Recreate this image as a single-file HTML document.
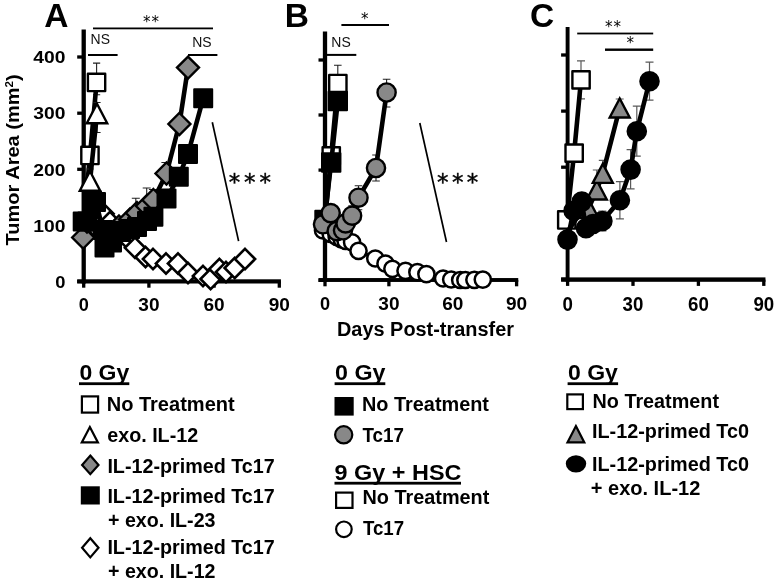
<!DOCTYPE html>
<html lang="en"><head><meta charset="utf-8"><title>Figure</title>
<style>html,body{margin:0;padding:0;background:#fff}svg{display:block}</style>
</head><body>
<svg width="776" height="584" viewBox="0 0 776 584" font-family='"Liberation Sans", sans-serif' fill="#000">
<rect width="776" height="584" fill="#fff"/>
<g id="panelA">
<rect x="81.55" y="29.5" width="4.3" height="254.00" fill="#000"/>
<rect x="77.2" y="279.30" width="203.75" height="4.2" fill="#000"/>
<rect x="82.05" y="281.4" width="3.3" height="6.3" fill="#000"/>
<rect x="147.25" y="281.4" width="3.3" height="6.3" fill="#000"/>
<rect x="212.45" y="281.4" width="3.3" height="6.3" fill="#000"/>
<rect x="277.65" y="281.4" width="3.3" height="6.3" fill="#000"/>
<rect x="77.2" y="279.85" width="6.5" height="3.3" fill="#000"/>
<rect x="77.2" y="223.75" width="6.5" height="3.3" fill="#000"/>
<rect x="77.2" y="167.65" width="6.5" height="3.3" fill="#000"/>
<rect x="77.2" y="111.55" width="6.5" height="3.3" fill="#000"/>
<rect x="77.2" y="55.35" width="6.5" height="3.3" fill="#000"/>
<path d="M96.6,63.1 L96.6,94.8 M93.0,63.1 L100.2,63.1 M93.0,94.8 L100.2,94.8" stroke="#222" stroke-width="1.1" fill="none"/>
<path d="M83.7,222.0 L90.0,155.5 L96.6,82.4" fill="none" stroke="#000" stroke-width="4.6" stroke-linejoin="round"/>
<rect x="81.3" y="146.8" width="17.3" height="17.3" fill="#fff" stroke="#000" stroke-width="2.4" stroke-linejoin="round"/>
<rect x="87.9" y="73.8" width="17.3" height="17.3" fill="#fff" stroke="#000" stroke-width="2.4" stroke-linejoin="round"/>
<path d="M97.0,102.5 L97.0,132.5 M93.4,102.5 L100.6,102.5 M93.4,132.5 L100.6,132.5" stroke="#222" stroke-width="1.1" fill="none"/>
<path d="M90.0,169.0 L90.0,181.0 M86.4,169.0 L93.6,169.0" stroke="#222" stroke-width="1.1" fill="none"/>
<path d="M83.7,222.0 L90.0,181.0 L97.0,113.5" fill="none" stroke="#000" stroke-width="4.6" stroke-linejoin="round"/>
<path d="M90.0,171.2 L100.2,190.8 L79.8,190.8Z" fill="#fff" stroke="#000" stroke-width="2.4" stroke-linejoin="miter"/>
<path d="M97.0,103.8 L107.2,123.2 L86.8,123.2Z" fill="#fff" stroke="#000" stroke-width="2.4" stroke-linejoin="miter"/>
<path d="M83.0,222.0 L87.0,222.0 L92.0,218.0 L96.0,216.0 L100.0,218.0 L103.5,213.8 L110.0,222.0 L118.0,232.0 L127.0,238.0 L135.0,247.8 L145.5,257.0 L153.0,259.0 L166.0,263.5 L178.0,263.5 L188.0,273.0 L203.0,276.0 L210.6,279.0 L219.4,269.0 L226.0,272.0 L234.7,268.0 L245.0,259.0" fill="none" stroke="#000" stroke-width="3.5" stroke-linejoin="round"/>
<path d="M92.0,207.9 L102.1,218.0 L92.0,228.1 L81.9,218.0Z" fill="#fff" stroke="#000" stroke-width="2.6"/>
<path d="M96.0,205.9 L106.1,216.0 L96.0,226.1 L85.9,216.0Z" fill="#fff" stroke="#000" stroke-width="2.6"/>
<path d="M100.0,207.9 L110.1,218.0 L100.0,228.1 L89.9,218.0Z" fill="#fff" stroke="#000" stroke-width="2.6"/>
<path d="M103.5,203.7 L113.6,213.8 L103.5,223.9 L93.4,213.8Z" fill="#fff" stroke="#000" stroke-width="2.6"/>
<path d="M110.0,211.9 L120.1,222.0 L110.0,232.1 L99.9,222.0Z" fill="#fff" stroke="#000" stroke-width="2.6"/>
<path d="M118.0,221.9 L128.1,232.0 L118.0,242.1 L107.9,232.0Z" fill="#fff" stroke="#000" stroke-width="2.6"/>
<path d="M127.0,227.9 L137.1,238.0 L127.0,248.1 L116.9,238.0Z" fill="#fff" stroke="#000" stroke-width="2.6"/>
<path d="M135.0,237.7 L145.1,247.8 L135.0,257.9 L124.9,247.8Z" fill="#fff" stroke="#000" stroke-width="2.6"/>
<path d="M145.5,246.9 L155.6,257.0 L145.5,267.1 L135.4,257.0Z" fill="#fff" stroke="#000" stroke-width="2.6"/>
<path d="M153.0,248.9 L163.1,259.0 L153.0,269.1 L142.9,259.0Z" fill="#fff" stroke="#000" stroke-width="2.6"/>
<path d="M166.0,253.4 L176.1,263.5 L166.0,273.6 L155.9,263.5Z" fill="#fff" stroke="#000" stroke-width="2.6"/>
<path d="M178.0,253.4 L188.1,263.5 L178.0,273.6 L167.9,263.5Z" fill="#fff" stroke="#000" stroke-width="2.6"/>
<path d="M188.0,262.9 L198.1,273.0 L188.0,283.1 L177.9,273.0Z" fill="#fff" stroke="#000" stroke-width="2.6"/>
<path d="M203.0,265.9 L213.1,276.0 L203.0,286.1 L192.9,276.0Z" fill="#fff" stroke="#000" stroke-width="2.6"/>
<path d="M210.6,268.9 L220.7,279.0 L210.6,289.1 L200.5,279.0Z" fill="#fff" stroke="#000" stroke-width="2.6"/>
<path d="M219.4,258.9 L229.5,269.0 L219.4,279.1 L209.3,269.0Z" fill="#fff" stroke="#000" stroke-width="2.6"/>
<path d="M226.0,261.9 L236.1,272.0 L226.0,282.1 L215.9,272.0Z" fill="#fff" stroke="#000" stroke-width="2.6"/>
<path d="M234.7,257.9 L244.8,268.0 L234.7,278.1 L224.6,268.0Z" fill="#fff" stroke="#000" stroke-width="2.6"/>
<path d="M245.0,248.9 L255.1,259.0 L245.0,269.1 L234.9,259.0Z" fill="#fff" stroke="#000" stroke-width="2.6"/>
<path d="M135.8,198.2 L135.8,213.0 M131.8,198.2 L139.8,198.2" stroke="#222" stroke-width="1.1" fill="none"/>
<path d="M146.7,188.0 L146.7,206.0 M142.7,188.0 L150.7,188.0" stroke="#222" stroke-width="1.1" fill="none"/>
<path d="M152.9,189.5 L152.9,200.0 M148.9,189.5 L156.9,189.5" stroke="#222" stroke-width="1.1" fill="none"/>
<path d="M165.4,162.5 L165.4,173.5 M161.4,162.5 L169.4,162.5" stroke="#222" stroke-width="1.1" fill="none"/>
<path d="M179.4,117.0 L179.4,124.0 M175.4,117.0 L183.4,117.0" stroke="#222" stroke-width="1.1" fill="none"/>
<path d="M188.0,62.6 L188.0,67.6 M184.0,62.6 L192.0,62.6" stroke="#222" stroke-width="1.1" fill="none"/>
<path d="M83.2,237.5 L87.0,221.5 L92.0,222.0 L96.0,227.0 L104.5,236.0 L111.5,234.0 L115.0,231.0 L119.0,226.5 L130.0,219.5 L137.0,213.0 L147.0,206.0 L153.4,200.0 L166.5,173.5 L179.4,124.0 L188.0,67.6" fill="none" stroke="#000" stroke-width="4.6" stroke-linejoin="round"/>
<path d="M83.2,226.5 L94.2,237.5 L83.2,248.5 L72.2,237.5Z" fill="#888" stroke="#000" stroke-width="2.4"/>
<path d="M87.0,210.5 L98.0,221.5 L87.0,232.5 L76.0,221.5Z" fill="#888" stroke="#000" stroke-width="2.4"/>
<path d="M92.0,211.0 L103.0,222.0 L92.0,233.0 L81.0,222.0Z" fill="#888" stroke="#000" stroke-width="2.4"/>
<path d="M96.0,216.0 L107.0,227.0 L96.0,238.0 L85.0,227.0Z" fill="#888" stroke="#000" stroke-width="2.4"/>
<path d="M104.5,225.0 L115.5,236.0 L104.5,247.0 L93.5,236.0Z" fill="#888" stroke="#000" stroke-width="2.4"/>
<path d="M111.5,223.0 L122.5,234.0 L111.5,245.0 L100.5,234.0Z" fill="#888" stroke="#000" stroke-width="2.4"/>
<path d="M115.0,220.0 L126.0,231.0 L115.0,242.0 L104.0,231.0Z" fill="#888" stroke="#000" stroke-width="2.4"/>
<path d="M119.0,215.5 L130.0,226.5 L119.0,237.5 L108.0,226.5Z" fill="#888" stroke="#000" stroke-width="2.4"/>
<path d="M130.0,208.5 L141.0,219.5 L130.0,230.5 L119.0,219.5Z" fill="#888" stroke="#000" stroke-width="2.4"/>
<path d="M137.0,202.0 L148.0,213.0 L137.0,224.0 L126.0,213.0Z" fill="#888" stroke="#000" stroke-width="2.4"/>
<path d="M147.0,195.0 L158.0,206.0 L147.0,217.0 L136.0,206.0Z" fill="#888" stroke="#000" stroke-width="2.4"/>
<path d="M153.4,189.0 L164.4,200.0 L153.4,211.0 L142.4,200.0Z" fill="#888" stroke="#000" stroke-width="2.4"/>
<path d="M166.5,162.5 L177.5,173.5 L166.5,184.5 L155.5,173.5Z" fill="#888" stroke="#000" stroke-width="2.4"/>
<path d="M179.4,113.0 L190.4,124.0 L179.4,135.0 L168.4,124.0Z" fill="#888" stroke="#000" stroke-width="2.4"/>
<path d="M188.0,56.6 L199.0,67.6 L188.0,78.6 L177.0,67.6Z" fill="#888" stroke="#000" stroke-width="2.4"/>
<path d="M82.7,221.5 L87.4,221.5 L92.0,200.5 L96.0,202.0 L103.0,230.0 L104.5,247.5 L112.0,242.5 L114.0,231.0 L121.0,232.0 L130.0,229.0 L137.0,227.0 L147.0,221.0 L153.4,216.8 L166.5,198.5 L178.8,176.7 L188.0,154.0 L203.2,98.3" fill="none" stroke="#000" stroke-width="4.6" stroke-linejoin="round"/>
<rect x="73.7" y="212.5" width="18" height="18" fill="#000" stroke="#000" stroke-width="2" stroke-linejoin="round"/>
<rect x="78.4" y="212.5" width="18" height="18" fill="#000" stroke="#000" stroke-width="2" stroke-linejoin="round"/>
<rect x="83.0" y="191.5" width="18" height="18" fill="#000" stroke="#000" stroke-width="2" stroke-linejoin="round"/>
<rect x="87.0" y="193.0" width="18" height="18" fill="#000" stroke="#000" stroke-width="2" stroke-linejoin="round"/>
<rect x="94.0" y="221.0" width="18" height="18" fill="#000" stroke="#000" stroke-width="2" stroke-linejoin="round"/>
<rect x="95.5" y="238.5" width="18" height="18" fill="#000" stroke="#000" stroke-width="2" stroke-linejoin="round"/>
<rect x="103.0" y="233.5" width="18" height="18" fill="#000" stroke="#000" stroke-width="2" stroke-linejoin="round"/>
<rect x="105.0" y="222.0" width="18" height="18" fill="#000" stroke="#000" stroke-width="2" stroke-linejoin="round"/>
<rect x="112.0" y="223.0" width="18" height="18" fill="#000" stroke="#000" stroke-width="2" stroke-linejoin="round"/>
<rect x="121.0" y="220.0" width="18" height="18" fill="#000" stroke="#000" stroke-width="2" stroke-linejoin="round"/>
<rect x="128.0" y="218.0" width="18" height="18" fill="#000" stroke="#000" stroke-width="2" stroke-linejoin="round"/>
<rect x="138.0" y="212.0" width="18" height="18" fill="#000" stroke="#000" stroke-width="2" stroke-linejoin="round"/>
<rect x="144.4" y="207.8" width="18" height="18" fill="#000" stroke="#000" stroke-width="2" stroke-linejoin="round"/>
<rect x="157.5" y="189.5" width="18" height="18" fill="#000" stroke="#000" stroke-width="2" stroke-linejoin="round"/>
<rect x="169.8" y="167.7" width="18" height="18" fill="#000" stroke="#000" stroke-width="2" stroke-linejoin="round"/>
<rect x="179.0" y="145.0" width="18" height="18" fill="#000" stroke="#000" stroke-width="2" stroke-linejoin="round"/>
<rect x="194.2" y="89.3" width="18" height="18" fill="#000" stroke="#000" stroke-width="2" stroke-linejoin="round"/>
</g>
<g id="panelB">
<rect x="322.85" y="31.5" width="4.3" height="250.45" fill="#000"/>
<rect x="318.5" y="278.05" width="199.75" height="3.9" fill="#000"/>
<rect x="323.35" y="280.0" width="3.3" height="6.3" fill="#000"/>
<rect x="387.25" y="280.0" width="3.3" height="6.3" fill="#000"/>
<rect x="451.15" y="280.0" width="3.3" height="6.3" fill="#000"/>
<rect x="514.95" y="280.0" width="3.3" height="6.3" fill="#000"/>
<rect x="318.5" y="278.65" width="6.5" height="3.3" fill="#000"/>
<rect x="318.5" y="223.55" width="6.5" height="3.3" fill="#000"/>
<rect x="318.5" y="168.45" width="6.5" height="3.3" fill="#000"/>
<rect x="318.5" y="113.35" width="6.5" height="3.3" fill="#000"/>
<rect x="318.5" y="58.35" width="6.5" height="3.3" fill="#000"/>
<path d="M323.0,230.3 L330.7,234.0 L336.7,237.0 L341.8,239.7 L345.6,241.0 L352.1,242.3 L358.5,250.8 L375.3,258.5 L385.5,263.7 L392.4,268.8 L405.5,270.8 L417.4,272.2 L426.4,274.1 L443.1,278.5 L451.2,279.5 L460.2,280.0 L465.4,280.0 L474.4,279.8 L482.8,279.6" fill="none" stroke="#000" stroke-width="3.5" stroke-linejoin="round"/>
<circle cx="323.0" cy="230.3" r="8.1" fill="#fff" stroke="#000" stroke-width="2.5"/>
<circle cx="330.7" cy="234.0" r="8.1" fill="#fff" stroke="#000" stroke-width="2.5"/>
<circle cx="336.7" cy="237.0" r="8.1" fill="#fff" stroke="#000" stroke-width="2.5"/>
<circle cx="341.8" cy="239.7" r="8.1" fill="#fff" stroke="#000" stroke-width="2.5"/>
<circle cx="345.6" cy="241.0" r="8.1" fill="#fff" stroke="#000" stroke-width="2.5"/>
<circle cx="352.1" cy="242.3" r="8.1" fill="#fff" stroke="#000" stroke-width="2.5"/>
<circle cx="358.5" cy="250.8" r="8.1" fill="#fff" stroke="#000" stroke-width="2.5"/>
<circle cx="375.3" cy="258.5" r="8.1" fill="#fff" stroke="#000" stroke-width="2.5"/>
<circle cx="385.5" cy="263.7" r="8.1" fill="#fff" stroke="#000" stroke-width="2.5"/>
<circle cx="392.4" cy="268.8" r="8.1" fill="#fff" stroke="#000" stroke-width="2.5"/>
<circle cx="405.5" cy="270.8" r="8.1" fill="#fff" stroke="#000" stroke-width="2.5"/>
<circle cx="417.4" cy="272.2" r="8.1" fill="#fff" stroke="#000" stroke-width="2.5"/>
<circle cx="426.4" cy="274.1" r="8.1" fill="#fff" stroke="#000" stroke-width="2.5"/>
<circle cx="443.1" cy="278.5" r="8.1" fill="#fff" stroke="#000" stroke-width="2.5"/>
<circle cx="451.2" cy="279.5" r="8.1" fill="#fff" stroke="#000" stroke-width="2.5"/>
<circle cx="460.2" cy="280.0" r="8.1" fill="#fff" stroke="#000" stroke-width="2.5"/>
<circle cx="465.4" cy="280.0" r="8.1" fill="#fff" stroke="#000" stroke-width="2.5"/>
<circle cx="474.4" cy="279.8" r="8.1" fill="#fff" stroke="#000" stroke-width="2.5"/>
<circle cx="482.8" cy="279.6" r="8.1" fill="#fff" stroke="#000" stroke-width="2.5"/>
<path d="M337.8,65.3 L337.8,83.6 M334.0,65.3 L341.6,65.3" stroke="#222" stroke-width="1.1" fill="none"/>
<path d="M324.8,222.0 L331.2,155.8 L337.8,83.6" fill="none" stroke="#000" stroke-width="4.6" stroke-linejoin="round"/>
<rect x="322.6" y="147.2" width="17.3" height="17.3" fill="#fff" stroke="#000" stroke-width="2.4" stroke-linejoin="round"/>
<rect x="329.2" y="74.9" width="17.3" height="17.3" fill="#fff" stroke="#000" stroke-width="2.4" stroke-linejoin="round"/>
<path d="M324.5,220.0 L331.2,162.5 L337.8,101.0" fill="none" stroke="#000" stroke-width="4.6" stroke-linejoin="round"/>
<rect x="315.3" y="210.8" width="18.4" height="18.4" fill="#000" stroke="#000" stroke-width="2" stroke-linejoin="round"/>
<rect x="322.0" y="153.3" width="18.4" height="18.4" fill="#000" stroke="#000" stroke-width="2" stroke-linejoin="round"/>
<rect x="328.6" y="91.8" width="18.4" height="18.4" fill="#000" stroke="#000" stroke-width="2" stroke-linejoin="round"/>
<path d="M386.6,79.3 L386.6,107.0 M382.8,79.3 L390.4,79.3 M382.8,107.0 L390.4,107.0" stroke="#222" stroke-width="1.1" fill="none"/>
<path d="M376.0,155.0 L376.0,181.0 M372.2,155.0 L379.8,155.0 M372.2,181.0 L379.8,181.0" stroke="#222" stroke-width="1.1" fill="none"/>
<path d="M358.5,185.7 L358.5,209.7 M354.7,185.7 L362.3,185.7 M354.7,209.7 L362.3,209.7" stroke="#222" stroke-width="1.1" fill="none"/>
<path d="M352.1,205.7 L352.1,225.7 M348.3,205.7 L355.9,205.7 M348.3,225.7 L355.9,225.7" stroke="#222" stroke-width="1.1" fill="none"/>
<path d="M323.0,224.3 L330.7,213.1 L336.7,231.1 L343.0,230.3 L345.6,223.4 L352.1,215.7 L358.5,197.7 L376.0,168.0 L386.6,92.5" fill="none" stroke="#000" stroke-width="4.6" stroke-linejoin="round"/>
<circle cx="323.0" cy="224.3" r="9.1" fill="#888" stroke="#000" stroke-width="2.4"/>
<circle cx="330.7" cy="213.1" r="9.1" fill="#888" stroke="#000" stroke-width="2.4"/>
<circle cx="336.7" cy="231.1" r="9.1" fill="#888" stroke="#000" stroke-width="2.4"/>
<circle cx="343.0" cy="230.3" r="9.1" fill="#888" stroke="#000" stroke-width="2.4"/>
<circle cx="345.6" cy="223.4" r="9.1" fill="#888" stroke="#000" stroke-width="2.4"/>
<circle cx="352.1" cy="215.7" r="9.1" fill="#888" stroke="#000" stroke-width="2.4"/>
<circle cx="358.5" cy="197.7" r="9.1" fill="#888" stroke="#000" stroke-width="2.4"/>
<circle cx="376.0" cy="168.0" r="9.1" fill="#888" stroke="#000" stroke-width="2.4"/>
<circle cx="386.6" cy="92.5" r="9.1" fill="#888" stroke="#000" stroke-width="2.4"/>
</g>
<g id="panelC">
<rect x="565.65" y="27" width="3.9" height="254.80" fill="#000"/>
<rect x="561.1" y="277.40" width="204.35" height="4.4" fill="#000"/>
<rect x="565.95" y="279.6" width="3.3" height="6.3" fill="#000"/>
<rect x="631.35" y="279.6" width="3.3" height="6.3" fill="#000"/>
<rect x="696.75" y="279.6" width="3.3" height="6.3" fill="#000"/>
<rect x="762.15" y="279.6" width="3.3" height="6.3" fill="#000"/>
<rect x="561.1" y="277.65" width="6.5" height="3.3" fill="#000"/>
<rect x="561.1" y="221.55" width="6.5" height="3.3" fill="#000"/>
<rect x="561.1" y="165.55" width="6.5" height="3.3" fill="#000"/>
<rect x="561.1" y="109.45" width="6.5" height="3.3" fill="#000"/>
<rect x="561.1" y="53.35" width="6.5" height="3.3" fill="#000"/>
<path d="M581.0,60.9 L581.0,98.9 M577.0,60.9 L585.0,60.9 M577.0,98.9 L585.0,98.9" stroke="#5a5a5a" stroke-width="1.2" fill="none"/>
<path d="M566.8,220.0 L574.1,153.2 L581.0,79.9" fill="none" stroke="#000" stroke-width="4.6" stroke-linejoin="round"/>
<rect x="558.1" y="211.3" width="17.3" height="17.3" fill="#fff" stroke="#000" stroke-width="2.4" stroke-linejoin="round"/>
<rect x="565.5" y="144.5" width="17.3" height="17.3" fill="#fff" stroke="#000" stroke-width="2.4" stroke-linejoin="round"/>
<rect x="572.4" y="71.2" width="17.3" height="17.3" fill="#fff" stroke="#000" stroke-width="2.4" stroke-linejoin="round"/>
<path d="M602.8,160.4 L602.8,173.4 M598.8,160.4 L606.8,160.4" stroke="#5a5a5a" stroke-width="1.2" fill="none"/>
<path d="M596.8,170.0 L596.8,190.0 M592.8,170.0 L600.8,170.0" stroke="#5a5a5a" stroke-width="1.2" fill="none"/>
<path d="M619.7,99.0 L619.7,108.0 M615.7,99.0 L623.7,99.0" stroke="#5a5a5a" stroke-width="1.2" fill="none"/>
<path d="M567.3,232.0 L579.0,215.0 L588.5,208.5 L596.8,190.0 L602.8,173.4 L619.7,108.0" fill="none" stroke="#000" stroke-width="4.6" stroke-linejoin="round"/>
<path d="M588.5,199.0 L598.5,218.0 L578.5,218.0Z" fill="#888" stroke="#000" stroke-width="2.4" stroke-linejoin="miter"/>
<path d="M596.8,180.5 L606.8,199.5 L586.8,199.5Z" fill="#888" stroke="#000" stroke-width="2.4" stroke-linejoin="miter"/>
<path d="M602.8,163.9 L612.8,182.9 L592.8,182.9Z" fill="#888" stroke="#000" stroke-width="2.4" stroke-linejoin="miter"/>
<path d="M619.7,98.5 L629.7,117.5 L609.7,117.5Z" fill="#888" stroke="#000" stroke-width="2.4" stroke-linejoin="miter"/>
<path d="M649.5,62.2 L649.5,100.2 M645.5,62.2 L653.5,62.2 M645.5,100.2 L653.5,100.2" stroke="#5a5a5a" stroke-width="1.2" fill="none"/>
<path d="M636.8,106.2 L636.8,156.2 M632.8,106.2 L640.8,106.2 M632.8,156.2 L640.8,156.2" stroke="#5a5a5a" stroke-width="1.2" fill="none"/>
<path d="M630.6,149.6 L630.6,188.9 M626.6,149.6 L634.6,149.6 M626.6,188.9 L634.6,188.9" stroke="#5a5a5a" stroke-width="1.2" fill="none"/>
<path d="M619.9,181.7 L619.9,218.9 M615.9,181.7 L623.9,181.7 M615.9,218.9 L623.9,218.9" stroke="#5a5a5a" stroke-width="1.2" fill="none"/>
<path d="M602.4,211.0 L602.4,231.0 M598.4,211.0 L606.4,211.0 M598.4,231.0 L606.4,231.0" stroke="#5a5a5a" stroke-width="1.2" fill="none"/>
<path d="M567.5,239.6 L573.6,210.8 L581.8,201.6 L586.0,228.3 L593.0,224.0 L602.4,221.0 L619.9,200.3 L630.6,169.6 L636.8,131.2 L649.5,81.2" fill="none" stroke="#000" stroke-width="4.6" stroke-linejoin="round"/>
<circle cx="567.5" cy="239.6" r="9.3" fill="#000" stroke="#000" stroke-width="2"/>
<circle cx="573.6" cy="210.8" r="9.3" fill="#000" stroke="#000" stroke-width="2"/>
<circle cx="581.8" cy="201.6" r="9.3" fill="#000" stroke="#000" stroke-width="2"/>
<circle cx="586.0" cy="228.3" r="9.3" fill="#000" stroke="#000" stroke-width="2"/>
<circle cx="593.0" cy="224.0" r="9.3" fill="#000" stroke="#000" stroke-width="2"/>
<circle cx="602.4" cy="221.0" r="9.3" fill="#000" stroke="#000" stroke-width="2"/>
<circle cx="619.9" cy="200.3" r="9.3" fill="#000" stroke="#000" stroke-width="2"/>
<circle cx="630.6" cy="169.6" r="9.3" fill="#000" stroke="#000" stroke-width="2"/>
<circle cx="636.8" cy="131.2" r="9.3" fill="#000" stroke="#000" stroke-width="2"/>
<circle cx="649.5" cy="81.2" r="9.3" fill="#000" stroke="#000" stroke-width="2"/>
</g>
<text x="44.2" y="26.8" font-size="33.5" font-weight="bold" text-anchor="start">A</text>
<text x="284.8" y="26.9" font-size="33.5" font-weight="bold" text-anchor="start">B</text>
<text x="529.9" y="26.9" font-size="33.5" font-weight="bold" text-anchor="start">C</text>
<text x="65.4" y="287.7" font-size="17.4" font-weight="bold" text-anchor="end" textLength="10.2" lengthAdjust="spacingAndGlyphs">0</text>
<text x="65.4" y="231.6" font-size="17.4" font-weight="bold" text-anchor="end" textLength="32.2" lengthAdjust="spacingAndGlyphs">100</text>
<text x="65.4" y="175.5" font-size="17.4" font-weight="bold" text-anchor="end" textLength="32.2" lengthAdjust="spacingAndGlyphs">200</text>
<text x="65.4" y="119.4" font-size="17.4" font-weight="bold" text-anchor="end" textLength="32.2" lengthAdjust="spacingAndGlyphs">300</text>
<text x="65.4" y="63.2" font-size="17.4" font-weight="bold" text-anchor="end" textLength="32.2" lengthAdjust="spacingAndGlyphs">400</text>
<text x="83.7" y="311.4" font-size="18" font-weight="bold" text-anchor="middle" textLength="10.1" lengthAdjust="spacingAndGlyphs">0</text>
<text x="148.9" y="311.4" font-size="18" font-weight="bold" text-anchor="middle" textLength="21.2" lengthAdjust="spacingAndGlyphs">30</text>
<text x="214.1" y="311.4" font-size="18" font-weight="bold" text-anchor="middle" textLength="21.2" lengthAdjust="spacingAndGlyphs">60</text>
<text x="279.3" y="311.4" font-size="18" font-weight="bold" text-anchor="middle" textLength="21.2" lengthAdjust="spacingAndGlyphs">90</text>
<text x="325.0" y="310.4" font-size="18" font-weight="bold" text-anchor="middle" textLength="10.1" lengthAdjust="spacingAndGlyphs">0</text>
<text x="388.9" y="310.4" font-size="18" font-weight="bold" text-anchor="middle" textLength="21.2" lengthAdjust="spacingAndGlyphs">30</text>
<text x="452.8" y="310.4" font-size="18" font-weight="bold" text-anchor="middle" textLength="21.2" lengthAdjust="spacingAndGlyphs">60</text>
<text x="516.6" y="310.4" font-size="18" font-weight="bold" text-anchor="middle" textLength="21.2" lengthAdjust="spacingAndGlyphs">90</text>
<text x="567.6" y="310.5" font-size="19.5" font-weight="bold" text-anchor="middle" textLength="10.4" lengthAdjust="spacingAndGlyphs">0</text>
<text x="633.0" y="310.5" font-size="19.5" font-weight="bold" text-anchor="middle" textLength="20.8" lengthAdjust="spacingAndGlyphs">30</text>
<text x="698.4" y="310.5" font-size="19.5" font-weight="bold" text-anchor="middle" textLength="20.8" lengthAdjust="spacingAndGlyphs">60</text>
<text x="763.8" y="310.5" font-size="19.5" font-weight="bold" text-anchor="middle" textLength="20.8" lengthAdjust="spacingAndGlyphs">90</text>
<text transform="translate(19.1,245.4) rotate(-90)" font-size="19" font-weight="bold" textLength="171" lengthAdjust="spacingAndGlyphs">Tumor Area (mm<tspan font-size="11" dy="-6">2</tspan><tspan dy="6">)</tspan></text>
<text x="337" y="336.2" font-size="19.5" font-weight="bold" text-anchor="start" textLength="177" lengthAdjust="spacingAndGlyphs">Days Post-transfer</text>
<rect x="93" y="27.5" width="120" height="1.8" fill="#000"/>
<text x="142.9 151.6" y="26.8" font-family="DejaVu Sans, sans-serif" font-size="15" font-weight="normal" fill="#000" stroke="#000" stroke-width="0">**</text>
<rect x="88" y="54.0" width="29.599999999999994" height="2" fill="#000"/>
<text x="90.6" y="43.8" font-size="15.4" font-weight="normal" text-anchor="start" textLength="19.4" lengthAdjust="spacingAndGlyphs" fill="#111">NS</text>
<rect x="188" y="54.0" width="29.400000000000006" height="2" fill="#000"/>
<text x="192.2" y="47" font-size="15.4" font-weight="normal" text-anchor="start" textLength="19.4" lengthAdjust="spacingAndGlyphs" fill="#111">NS</text>
<rect x="341.4" y="24.0" width="47.60000000000002" height="2" fill="#000"/>
<text x="360.9" y="23.8" font-family="DejaVu Sans, sans-serif" font-size="15" font-weight="normal" fill="#000" stroke="#000" stroke-width="0">*</text>
<rect x="327" y="53.9" width="29.30000000000001" height="2" fill="#000"/>
<text x="331.3" y="47.2" font-size="15.4" font-weight="normal" text-anchor="start" textLength="19.4" lengthAdjust="spacingAndGlyphs" fill="#111">NS</text>
<rect x="577.2" y="32.6" width="76.0" height="1.8" fill="#000"/>
<text x="605.0 613.5" y="31.9" font-family="DejaVu Sans, sans-serif" font-size="15" font-weight="normal" fill="#000" stroke="#000" stroke-width="0">**</text>
<rect x="605" y="48.5" width="48.200000000000045" height="2.4" fill="#000"/>
<text x="626.5" y="48.2" font-family="DejaVu Sans, sans-serif" font-size="15" font-weight="normal" fill="#000" stroke="#000" stroke-width="0">*</text>
<path d="M212.3,122.3 L238.6,241.1" stroke="#000" stroke-width="1.7" fill="none"/>
<path d="M419.8,123 L446.5,242" stroke="#000" stroke-width="1.7" fill="none"/>
<text x="228.8 244.1 259.4" y="190.1" font-family="DejaVu Sans, sans-serif" font-size="23" font-weight="normal" fill="#000" stroke="#000" stroke-width="0.4">***</text>
<text x="437.1 451.9 466.7" y="189.7" font-family="DejaVu Sans, sans-serif" font-size="23" font-weight="normal" fill="#000" stroke="#000" stroke-width="0.4">***</text>
<text x="79.4" y="380.0" font-size="22.5" font-weight="bold" text-anchor="start" textLength="49.9" lengthAdjust="spacingAndGlyphs">0 Gy</text>
<rect x="79" y="382.3" width="50.30000000000001" height="2.8" fill="#000"/>
<rect x="81.90" y="396.40" width="16.20" height="16.20" fill="#fff" stroke="#000" stroke-width="2.2"/>
<text x="106.7" y="411" font-size="19.3" font-weight="bold" text-anchor="start" textLength="128" lengthAdjust="spacingAndGlyphs">No Treatment</text>
<path d="M89.85,427.10 L97.90,442.40 L81.80,442.40Z" fill="#fff" stroke="#000" stroke-width="2.2" stroke-linejoin="miter"/>
<text x="107.2" y="441.5" font-size="19.3" font-weight="bold" text-anchor="start" textLength="91" lengthAdjust="spacingAndGlyphs">exo. IL-12</text>
<path d="M90.3,455.59999999999997 L98.5,464.9 L90.3,474.2 L82.1,464.9Z" fill="#888" stroke="#000" stroke-width="2.2" stroke-linejoin="miter"/>
<text x="107.4" y="473.2" font-size="19.3" font-weight="bold" text-anchor="start" textLength="167.3" lengthAdjust="spacingAndGlyphs">IL-12-primed Tc17</text>
<rect x="80.8" y="486.3" width="19" height="18.2" fill="#000"/>
<text x="107.4" y="502.5" font-size="19.3" font-weight="bold" text-anchor="start" textLength="167.3" lengthAdjust="spacingAndGlyphs">IL-12-primed Tc17</text>
<text x="108" y="526.5" font-size="19.3" font-weight="bold" text-anchor="start" textLength="107.5" lengthAdjust="spacingAndGlyphs">+ exo. IL-23</text>
<path d="M90.3,538.1999999999999 L98.5,547.8 L90.3,557.4 L82.1,547.8Z" fill="#fff" stroke="#000" stroke-width="2.2" stroke-linejoin="miter"/>
<text x="107.4" y="553.5" font-size="19.3" font-weight="bold" text-anchor="start" textLength="167.3" lengthAdjust="spacingAndGlyphs">IL-12-primed Tc17</text>
<text x="108" y="577.6" font-size="19.3" font-weight="bold" text-anchor="start" textLength="107.5" lengthAdjust="spacingAndGlyphs">+ exo. IL-12</text>
<text x="335.1" y="380.0" font-size="22.5" font-weight="bold" text-anchor="start" textLength="50.4" lengthAdjust="spacingAndGlyphs">0 Gy</text>
<rect x="334.6" y="382.3" width="50.69999999999999" height="2.8" fill="#000"/>
<rect x="334.5" y="397" width="19.2" height="18.6" fill="#000"/>
<text x="362.0" y="411" font-size="19.3" font-weight="bold" text-anchor="start" textLength="127" lengthAdjust="spacingAndGlyphs">No Treatment</text>
<circle cx="343.7" cy="434.8" r="8.6" fill="#888" stroke="#000" stroke-width="2.2"/>
<text x="362.5" y="441.7" font-size="19.3" font-weight="bold" text-anchor="start" textLength="41.5" lengthAdjust="spacingAndGlyphs">Tc17</text>
<text x="334.6" y="479.7" font-size="22.9" font-weight="bold" text-anchor="start" textLength="126.8" lengthAdjust="spacingAndGlyphs">9 Gy + HSC</text>
<rect x="334.5" y="481.8" width="126.5" height="2.8" fill="#000"/>
<rect x="336.10" y="492.60" width="16.40" height="15.30" fill="#fff" stroke="#000" stroke-width="2.2"/>
<text x="362.4" y="503.8" font-size="19.3" font-weight="bold" text-anchor="start" textLength="127" lengthAdjust="spacingAndGlyphs">No Treatment</text>
<circle cx="343.9" cy="529.3" r="7.8" fill="#fff" stroke="#000" stroke-width="2.2"/>
<text x="362.9" y="535" font-size="19.3" font-weight="bold" text-anchor="start" textLength="41.2" lengthAdjust="spacingAndGlyphs">Tc17</text>
<text x="568.0" y="380.0" font-size="22.5" font-weight="bold" text-anchor="start" textLength="49.9" lengthAdjust="spacingAndGlyphs">0 Gy</text>
<rect x="567.6" y="382.3" width="50.5" height="2.8" fill="#000"/>
<rect x="567.30" y="394.40" width="15.60" height="14.70" fill="#fff" stroke="#000" stroke-width="2.2"/>
<text x="592.5" y="407.8" font-size="19.3" font-weight="bold" text-anchor="start" textLength="126.5" lengthAdjust="spacingAndGlyphs">No Treatment</text>
<path d="M575.90,426.10 L584.30,442.40 L567.50,442.40Z" fill="#888" stroke="#000" stroke-width="2.2" stroke-linejoin="miter"/>
<text x="592" y="438" font-size="19.3" font-weight="bold" text-anchor="start" textLength="157" lengthAdjust="spacingAndGlyphs">IL-12-primed Tc0</text>
<ellipse cx="576" cy="463.8" rx="10.2" ry="8.6" fill="#000"/>
<text x="592" y="471.2" font-size="19.3" font-weight="bold" text-anchor="start" textLength="157" lengthAdjust="spacingAndGlyphs">IL-12-primed Tc0</text>
<text x="590.8" y="494.6" font-size="19.3" font-weight="bold" text-anchor="start" textLength="109.5" lengthAdjust="spacingAndGlyphs">+ exo. IL-12</text>
</svg>
</body></html>
